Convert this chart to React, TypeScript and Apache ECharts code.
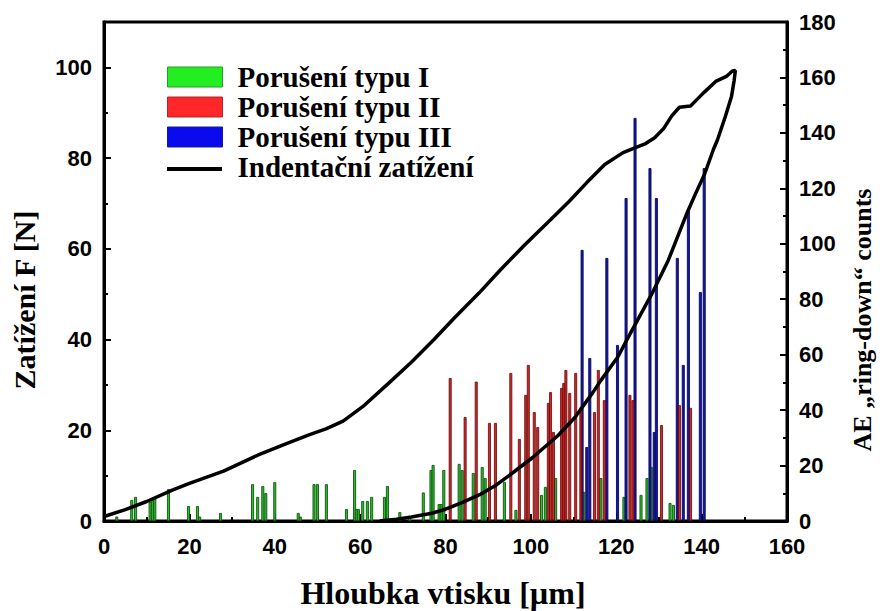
import React, { useEffect, useRef } from "react";
import * as echarts from "echarts";

// Indentation load curve (loading then unloading): depth [µm], load [N]
const curveDepth = [
  0, 5, 10, 16, 20, 28, 36, 42, 48, 52, 56, 61, 66.7, 72, 77.3, 82, 87.9, 93, 98.3, 104.6,
  109, 113.1, 117.3, 121.6, 124.5, 126.9, 129, 131.1, 133, 134.8, 137.4, 139, 140.7, 143.3,
  145.8, 147.2, 147.9,
  147.6, 147, 145.5, 143.7, 142.8, 140.7, 138.5, 136.4, 132.2, 128.3, 122.7, 120.4, 116.4,
  114.5, 110.3, 106.3, 100.4, 96, 92, 88, 84, 80, 76.8, 72, 68.5, 64.6,
];
const curveLoad = [
  1, 2.5, 4.3, 6.8, 8.3, 11, 14.5, 16.8, 19, 20.3, 22, 25.5, 30.4, 35, 40, 44.7, 50.3, 55.5,
  60.6, 66.4, 70.5, 74.6, 78.6, 81.2, 82.3, 83.2, 84.5, 86.5, 89.3, 91.2, 91.5, 93, 94.6, 96.9,
  98, 99.2, 99.3,
  97, 93.6, 89, 84, 82, 76.5, 72, 67.5, 57.5, 50, 40.3, 36.2, 31, 28.3, 22.8, 18.8, 14, 10.8,
  8, 5.8, 4.1, 2.6, 1.7, 0.9, 0.4, 0,
];

// AE ring-down counts, type I (green)
const type1Depth = [
  3.0, 6.5, 7.4, 10.8, 11.4, 11.9, 15.1, 19.8, 21.9, 22.4, 27.3, 34.8, 36.0, 37.2, 37.9, 40.0,
  45.5, 46.0, 49.2, 50.0, 52.1, 56.8, 58.7, 59.1, 59.6, 60.6, 61.7, 62.7, 65.7, 66.4, 69.3,
  71.6, 74.8, 76.6, 77.1, 78.5, 79.0, 79.6, 83.2, 83.9, 86.5, 88.6, 89.3, 93.8, 96.5, 102.5,
  103.4, 105.8, 112.4, 116.4, 121.8, 125.8, 127.2, 128.2, 132.6, 133.4,
];
const type1Counts = [
  1.6, 7.6, 8.7, 6.9, 7.6, 8.3, 11.5, 5.4, 5.4, 1.6, 2.9, 13.3, 8.7, 12.6, 10.1, 14.0,
  2.9, 1.6, 13.3, 13.3, 13.3, 4.3, 18.4, 4.3, 4.3, 7.2, 7.2, 8.7, 8.7, 12.6, 3.2,
  1.4, 10.3, 18.4, 20.2, 6.1, 6.1, 18.4, 20.6, 18.4, 17.3, 19.5, 15.5, 14.1, 4.0, 9.4,
  12.3, 15.5, 10.5, 15.5, 8.7, 9.4, 15.5, 19.5, 6.5, 5.8,
];

// type II (red)
const type2Depth = [
  81.1, 84.6, 87.2, 90.3, 91.7, 95.3, 97.3, 98.8, 99.4, 100.8, 101.6, 104.1, 104.6, 105.3,
  107.2, 107.7, 108.2, 109.1, 110.5, 111.7, 114.9, 115.8, 117.2, 123.2, 123.9, 130.6, 134.8,
  137.4,
];
const type2Counts = [
  51.6, 37.5, 50.3, 35.4, 35.4, 53.4, 29.6, 45.5, 56.3, 39.3, 33.9, 42.6, 46.5, 32.1,
  48.0, 49.8, 54.5, 46.2, 53.4, 41.0, 39.3, 54.5, 43.6, 45.5, 43.6, 34.6, 41.8,
  40.8,
];

// type III (blue)
const type3Depth = [
  112.0, 113.1, 113.8, 117.8, 120.3, 122.3, 124.4, 127.9, 128.9, 129.4, 134.3, 135.7, 136.9,
  139.7, 140.6,
];
const type3Counts = [
  97.8, 26.7, 58.8, 94.9, 63.5, 116.5, 145.4, 127.3, 32.1, 116.5, 94.9, 56.3, 112.2,
  82.6, 127.3,
];

const leftTicks = [0, 20, 40, 60, 80, 100];

const zip = (a: number[], b: number[]) => a.map((v, i) => [v, b[i]]);

const labelFont = {
  color: "#000",
  fontWeight: "bold" as const,
  fontSize: 22,
  fontFamily: "Liberation Sans",
};

export default function App() {
  const ref = useRef<HTMLDivElement>(null);
  useEffect(() => {
    if (!ref.current) return;
    const chart = echarts.init(ref.current, undefined, { renderer: "svg" });
    const axisCommon = {
      axisLine: { show: true, onZero: false, lineStyle: { color: "#000", width: 3 } },
      axisTick: { show: true, inside: true, length: 7, lineStyle: { color: "#000", width: 2 } },
      minorTick: { show: true, splitNumber: 2, length: 4, lineStyle: { color: "#000", width: 2 } },
      splitLine: { show: false },
      minorSplitLine: { show: false },
    };
    const barCommon = {
      type: "bar" as const,
      xAxisIndex: 0,
      yAxisIndex: 1,
      barWidth: 3,
      barGap: "-100%",
    };
    chart.setOption({
      animation: false,
      backgroundColor: "#fff",
      grid: {
        left: 104,
        right: 97,
        top: 22,
        bottom: 90,
        show: true,
        borderColor: "#000",
        borderWidth: 3,
        backgroundColor: "transparent",
      },
      legend: {
        orient: "vertical",
        left: 162,
        top: 57,
        itemWidth: 55,
        itemHeight: 20,
        itemGap: 0,
        textStyle: {
          color: "#000",
          fontFamily: "Liberation Serif",
          fontWeight: "bold",
          fontSize: 29,
          lineHeight: 20,
          padding: [0, 0, 10, 10],
        },
        data: [
          {
            name: "Porušení typu I",
            icon: "rect",
            itemStyle: { color: "#22ee22", borderColor: "#2a9a2a", borderWidth: 1 },
          },
          {
            name: "Porušení typu II",
            icon: "rect",
            itemStyle: { color: "#ff1010", borderColor: "#a02020", borderWidth: 1 },
          },
          {
            name: "Porušení typu III",
            icon: "rect",
            itemStyle: { color: "#0a0aee", borderColor: "#1a1a90", borderWidth: 1 },
          },
          { name: "Indentační zatížení", icon: "none" },
        ],
      },
      xAxis: {
        type: "value",
        min: 0,
        max: 160,
        interval: 20,
        ...axisCommon,
        axisLabel: { ...labelFont, margin: 14 },
      },
      yAxis: [
        {
          type: "value",
          min: 0,
          max: 110,
          interval: 20,
          position: "left",
          ...axisCommon,
          axisLabel: {
            ...labelFont,
            margin: 12,
            formatter: (v: number) => (leftTicks.includes(v) ? String(v) : ""),
          },
        },
        {
          type: "value",
          min: 0,
          max: 180,
          interval: 20,
          position: "right",
          ...axisCommon,
          axisLabel: { ...labelFont, margin: 12 },
        },
      ],
      series: [
        {
          ...barCommon,
          name: "Porušení typu I",
          itemStyle: { color: "#28c028", borderColor: "#145214", borderWidth: 0.9 },
          data: zip(type1Depth, type1Counts),
        },
        {
          ...barCommon,
          name: "Porušení typu III",
          itemStyle: { color: "#1414b8", borderColor: "#0a0a50", borderWidth: 0.9 },
          data: zip(type3Depth, type3Counts),
        },
        {
          ...barCommon,
          name: "Porušení typu II",
          itemStyle: { color: "#cc1010", borderColor: "#620a0a", borderWidth: 0.9, opacity: 0.9 },
          data: zip(type2Depth, type2Counts),
        },
        {
          type: "line",
          name: "Indentační zatížení",
          xAxisIndex: 0,
          yAxisIndex: 0,
          showSymbol: false,
          symbol: "none",
          lineStyle: { color: "#000", width: 3.5 },
          itemStyle: { color: "#000" },
          data: zip(curveDepth, curveLoad),
          z: 5,
        },
      ],
      graphic: [
        {
          type: "line",
          shape: { x1: 167, y1: 169, x2: 222, y2: 169 },
          style: { stroke: "#000", lineWidth: 4 },
        },
        {
          type: "text",
          x: 24,
          y: 300,
          rotation: Math.PI / 2,
          style: {
            text: "Zatížení F [N]",
            font: 'bold 30px "Liberation Serif"',
            fill: "#000",
            align: "center",
            verticalAlign: "middle",
          },
        },
        {
          type: "text",
          x: 862,
          y: 320,
          rotation: Math.PI / 2,
          style: {
            text: "AE „ring-down“ counts",
            font: 'bold 26px "Liberation Serif"',
            fill: "#000",
            align: "center",
            verticalAlign: "middle",
          },
        },
        {
          type: "text",
          x: 443,
          y: 593,
          style: {
            text: "Hloubka vtisku [µm]",
            font: 'bold 32px "Liberation Serif"',
            fill: "#000",
            align: "center",
            verticalAlign: "middle",
          },
        },
      ],
    });
    return () => chart.dispose();
  }, []);
  return (
    <div
      ref={ref}
      style={{ position: "fixed", left: 0, top: 0, width: 884, height: 611, background: "#fff" }}
    />
  );
}
